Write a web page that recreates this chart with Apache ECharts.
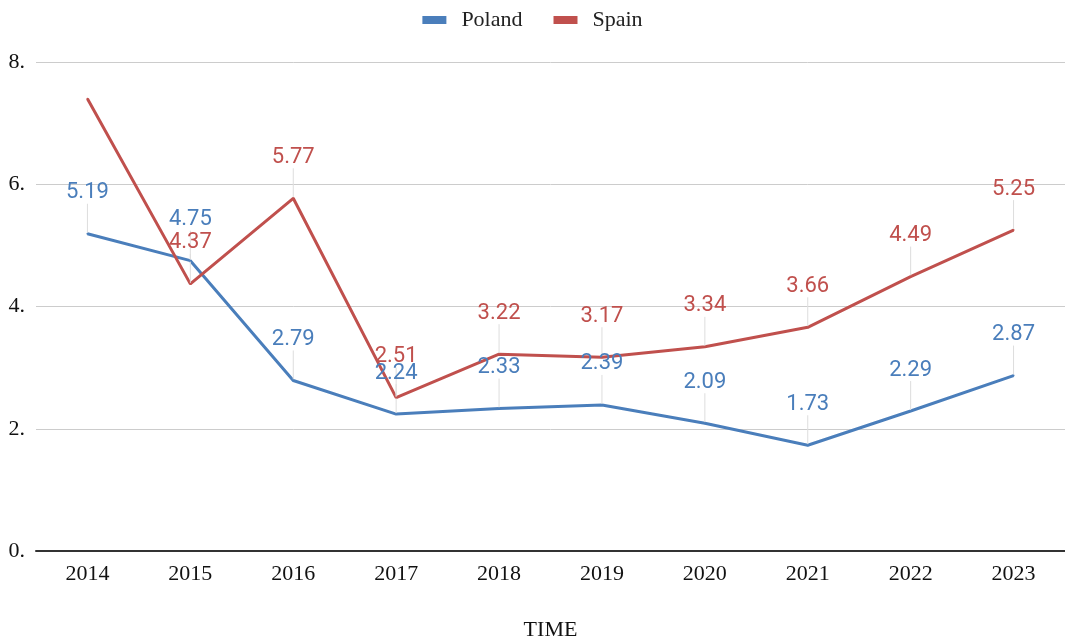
<!DOCTYPE html>
<html>
<head>
<meta charset="utf-8">
<script src="https://cdn.jsdelivr.net/npm/echarts@6/dist/echarts.min.js"></script>
<style>
  html, body { margin: 0; padding: 0; background: #ffffff; }
  #chart { width: 1065px; height: 641px; }
</style>
</head>
<body>
<div id="chart"></div>
<script>
const years = ['2014', '2015', '2016', '2017', '2018', '2019', '2020', '2021', '2022', '2023']
const poland = [5.19, 4.75, 2.79, 2.24, 2.33, 2.39, 2.09, 1.73, 2.29, 2.87]
const spain = [7.4, 4.37, 5.77, 2.51, 3.22, 3.17, 3.34, 3.66, 4.49, 5.25]
const yTicks = [0, 2, 4, 6, 8]

const blue = '#4a7ebb'
const red = '#c0504d'
const serif = 'Liberation Serif'

function makeSeries (name, values, color, hideFirst) {
  return {
    name: name,
    type: 'line',
    data: values.map((v, i) => (hideFirst && i === 0) ? { value: v, label: { show: false }, labelLine: { show: false } } : v),
    symbol: 'circle',
    symbolSize: 2,
    showSymbol: true,
    lineStyle: { color: color, width: 3 },
    itemStyle: { color: color },
    label: {
      show: true,
      position: 'top',
      distance: 5,
      color: color,
      fontFamily: 'Roboto',
      fontSize: 22,
      formatter: p => p.value.toFixed(2)
    },
    labelLayout: { dy: -24 },
    labelLine: { show: true, lineStyle: { color: '#dddddd', width: 1 } },
    z: 2
  }
}

const chart = echarts.init(document.getElementById('chart'))
chart.setOption({
  animation: false,
  legend: {
    top: 4,
    left: 'center',
    itemWidth: 24,
    itemHeight: 8,
    itemGap: 31,
    icon: 'rect',
    textStyle: { fontFamily: serif, fontSize: 22, color: '#222', padding: [0, 0, 0, 10] },
    data: ['Poland', 'Spain']
  },
  grid: { left: 36, right: 0, top: 62, bottom: 90, containLabel: false, outerBoundsMode: 'none' },
  xAxis: {
    type: 'category',
    data: years,
    name: 'TIME',
    nameLocation: 'middle',
    nameGap: 68,
    nameTextStyle: { fontFamily: serif, fontSize: 22, color: '#111' },
    axisTick: { show: false },
    axisLine: { lineStyle: { color: '#333', width: 2 } },
    axisLabel: { fontFamily: serif, fontSize: 22, color: '#111', margin: 12 }
  },
  yAxis: {
    type: 'value',
    min: yTicks[0],
    max: yTicks[yTicks.length - 1],
    interval: 2,
    axisLabel: { fontFamily: serif, fontSize: 22, color: '#111', margin: 11, formatter: v => v + '.' },
    splitLine: { lineStyle: { color: '#cccccc', width: 1 } },
    axisLine: { show: false },
    axisTick: { show: false }
  },
  series: [
    makeSeries('Poland', poland, blue, false),
    makeSeries('Spain', spain, red, true)
  ]
})
</script>
</body>
</html>
